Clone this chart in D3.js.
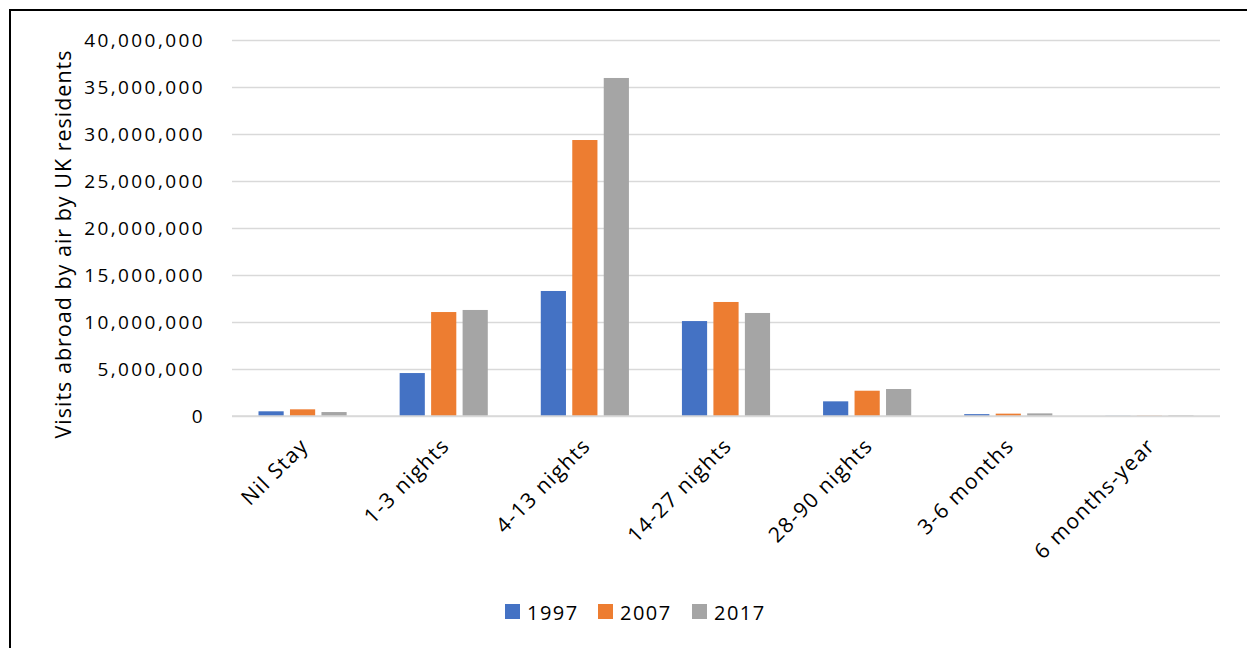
<!DOCTYPE html>
<html>
<head>
<meta charset="utf-8">
<script src="https://cdn.jsdelivr.net/npm/d3@7"></script>
<style>
  html, body { margin: 0; padding: 0; background: #fff; }
  svg { display: block; }
  text { font-family: "Open Sans", Lato, sans-serif; fill: #000; }
</style>
</head>
<body>
<svg id="chart" width="1247" height="648"></svg>
<script>
// Length of stay categories
const categories = ["Nil Stay", "1-3 nights", "4-13 nights", "14-27 nights", "28-90 nights", "3-6 months", "6 months-year"];
const years = ["1997", "2007", "2017"];
// Visits abroad by air, per year
const visits1997 = [500000, 4570000, 13300000, 10100000, 1560000, 200000, 20000];
const visits2007 = [710000, 11060000, 29360000, 12130000, 2690000, 250000, 30000];
const visits2017 = [420000, 11280000, 35960000, 10960000, 2870000, 280000, 60000];
const yTicks = [0, 5000000, 10000000, 15000000, 20000000, 25000000, 30000000, 35000000, 40000000];
const colors = ["#4472c4", "#ed7d31", "#a5a5a5"];
const yTitle = "Visits abroad by air by UK residents";

const seriesValues = [visits1997, visits2007, visits2017];
const rows = categories.map((c, i) => ({ cat: c, vals: years.map((y, j) => ({ year: y, v: seriesValues[j][i] })) }));

const FONT = "'Open Sans', Lato, sans-serif";
const svg = d3.select("#chart");

// outer frame (left and top edges)
svg.append("path")
  .attr("d", "M10,648 V10 H1247")
  .attr("fill", "none").attr("stroke", "#000").attr("stroke-width", 2);

const plot = { left: 232, right: 1220, top: 40, bottom: 416 };

const x0 = d3.scaleBand().domain(categories).range([plot.left, plot.right]).paddingInner(0).paddingOuter(0);
const x1 = d3.scaleBand().domain(years).range([26.5, x0.bandwidth() - 26.5]).paddingInner(0.2).paddingOuter(0);
const y = d3.scaleLinear().domain([0, 40000000]).range([plot.bottom, plot.top]);

// gridlines and tick labels
const yAxis = d3.axisLeft(y).tickValues(yTicks).tickSize(-(plot.right - plot.left)).tickPadding(27)
  .tickFormat(d3.format(","));
const gy = svg.append("g").attr("transform", `translate(${plot.left},0)`).call(yAxis);
gy.select(".domain").remove();
gy.selectAll(".tick line").attr("stroke", "#d9d9d9").attr("stroke-width", 1.5);
gy.selectAll(".tick text").attr("font-size", 19).attr("fill", "#000")
  .style("font-family", FONT).style("letter-spacing", "2.4px");

// bars
const groups = svg.append("g").selectAll("g").data(rows).join("g")
  .attr("transform", d => `translate(${x0(d.cat)},0)`);
groups.selectAll("rect").data(d => d.vals).join("rect")
  .attr("x", d => x1(d.year))
  .attr("width", x1.bandwidth())
  .attr("y", d => y(d.v))
  .attr("height", d => y(0) - y(d.v))
  .attr("fill", (d, i) => colors[i]);

// category axis line
svg.append("line")
  .attr("x1", plot.left).attr("x2", plot.right)
  .attr("y1", y(0)).attr("y2", y(0))
  .attr("stroke", "#d9d9d9").attr("stroke-width", 1.5);

// rotated category labels
const xAxis = d3.axisBottom(x0).tickSize(0).tickPadding(0);
const gx = svg.append("g").attr("transform", `translate(0,${plot.bottom})`).call(xAxis);
gx.select(".domain").remove();
gx.selectAll(".tick text")
  .attr("font-size", 21).attr("fill", "#000")
  .style("font-family", FONT).style("letter-spacing", "1.4px")
  .attr("text-anchor", "end")
  .attr("dy", 0)
  .attr("transform", "translate(7,31) rotate(-45)");

// y axis title
svg.append("text")
  .attr("transform", `translate(71,244) rotate(-90)`)
  .attr("text-anchor", "middle")
  .attr("font-size", 21.5)
  .style("letter-spacing", "1px")
  .text(yTitle);

// legend
const legendX = [505, 598, 692];
const legend = svg.append("g").selectAll("g").data(years).join("g")
  .attr("transform", (d, i) => `translate(${legendX[i]},604)`);
legend.append("rect").attr("width", 15).attr("height", 15).attr("fill", (d, i) => colors[i]);
legend.append("text").attr("x", 22).attr("y", 16).attr("font-size", 20)
  .style("letter-spacing", "1.5px").text(d => d);
</script>
</body>
</html>
